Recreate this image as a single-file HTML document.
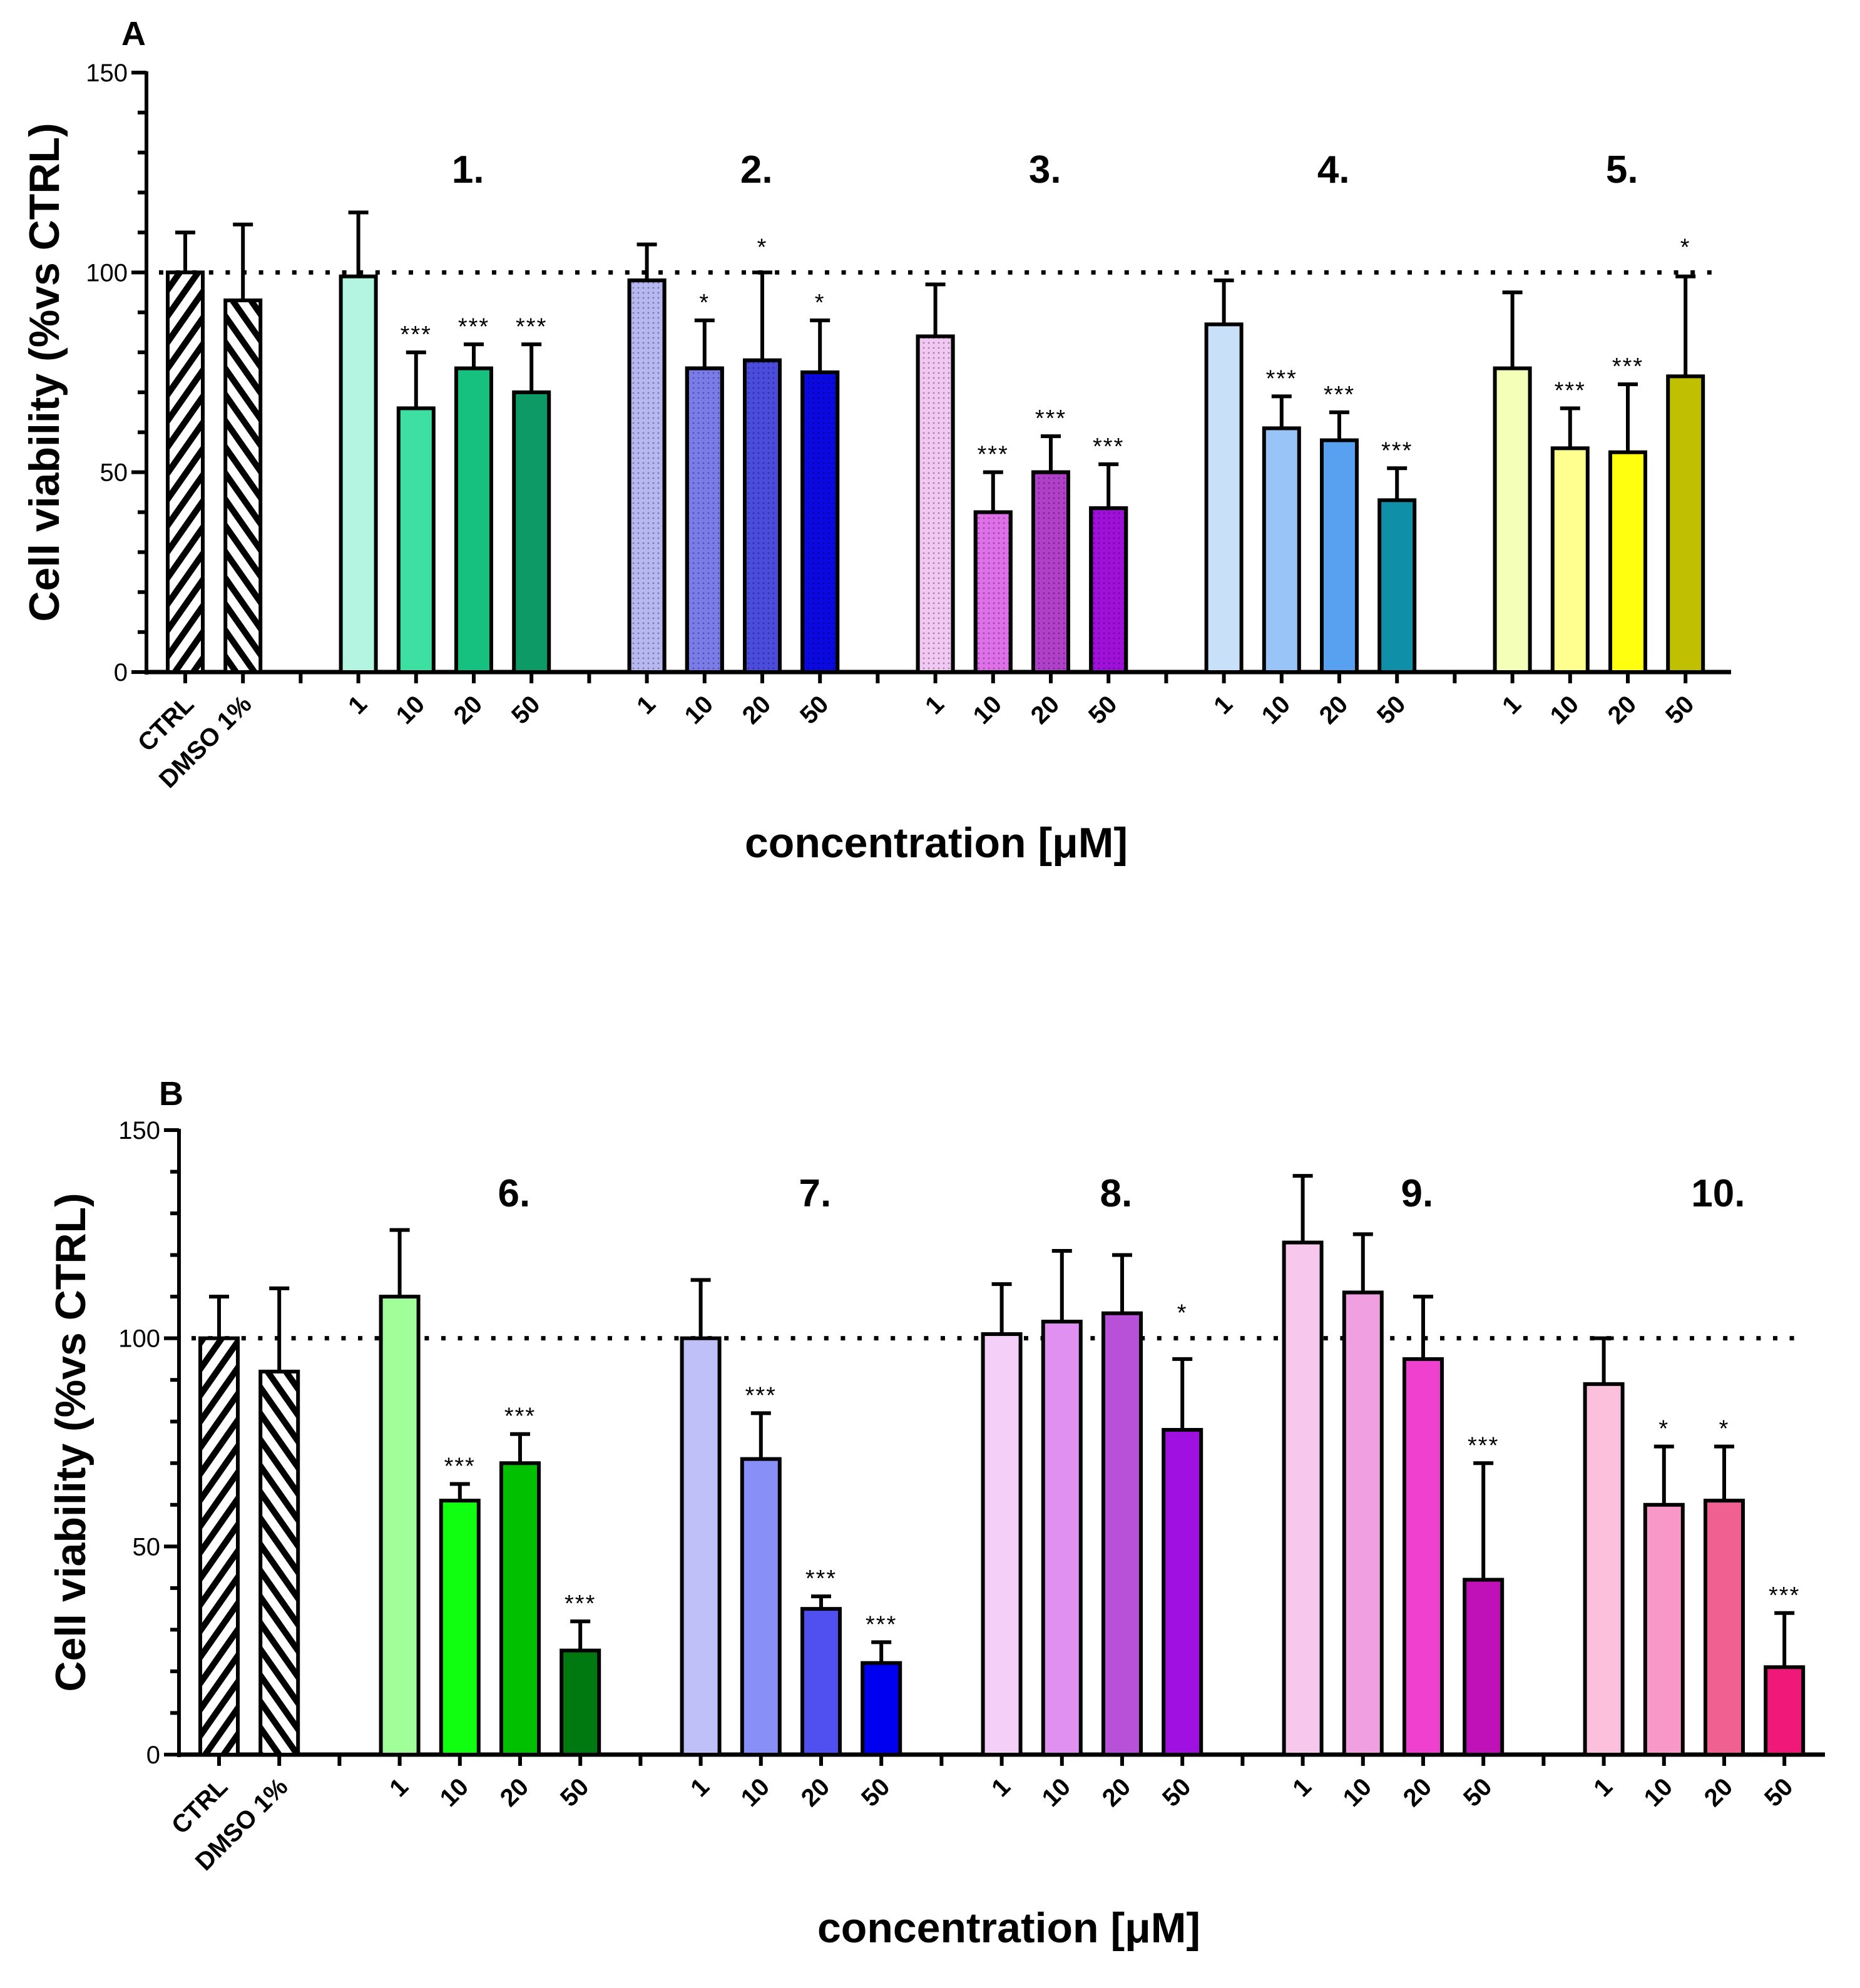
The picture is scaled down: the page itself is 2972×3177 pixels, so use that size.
<!DOCTYPE html>
<html><head><meta charset="utf-8"><style>
html,body{margin:0;padding:0;background:#fff}
svg{display:block}
text{font-family:"Liberation Sans",Arial,sans-serif}
</style></head><body>
<svg id="fig" width="2972" height="3177" viewBox="0 0 1486 1588.5" preserveAspectRatio="none" xmlns="http://www.w3.org/2000/svg">
<defs>
<pattern id="hatchA" patternUnits="userSpaceOnUse" width="12" height="12" patternTransform="rotate(35)"><rect width="12" height="12" fill="#fff"/><rect width="5" height="12" fill="#000"/></pattern>
<pattern id="hatchB" patternUnits="userSpaceOnUse" width="12" height="12" patternTransform="rotate(-35)"><rect width="12" height="12" fill="#fff"/><rect width="5" height="12" fill="#000"/></pattern>
<pattern id="dots" patternUnits="userSpaceOnUse" width="4" height="4"><rect width="4" height="4" fill="none"/><circle cx="2" cy="2" r="0.7" fill="rgba(0,0,60,0.35)"/></pattern>
</defs>
</svg>
<script>
// ---- data ----
const ticksY = [0, 50, 100, 150];
const groupNamesA = ["1.", "2.", "3.", "4.", "5."];
const groupNamesB = ["6.", "7.", "8.", "9.", "10."];
const doses = ["1", "10", "20", "50"];
const ctrlVals = [100, 93];
const ctrlErrA = [110, 112];
const ctrlValsB = [100, 92];
const ctrlErrB = [110, 112];
const valsA = [[99,66,76,70],[98,76,78,75],[84,40,50,41],[87,61,58,43],[76,56,55,74]];
const errA  = [[115,80,82,82],[107,88,100,88],[97,50,59,52],[98,69,65,51],[95,66,72,99]];
const starsA = [["","***","***","***"],["","*","*","*"],["","***","***","***"],["","***","***","***"],["","***","***","*"]];
const valsB = [[110,61,70,25],[100,71,35,22],[101,104,106,78],[123,111,95,42],[89,60,61,21]];
const errB  = [[126,65,77,32],[114,82,38,27],[113,121,120,95],[139,125,110,70],[100,74,74,34]];
const starsB = [["","***","***","***"],["","***","***","***"],["","","","*"],["","","","***"],["","*","*","***"]];
const colorsA = [["#b3f5e0","#3de0a0","#16c07f","#0e9a66"],["#b8b8f0","#7c7ce8","#4b4bdc","#0a0ae0"],["#f0c8f0","#e070e8","#b040c8","#a010d8"],["#c8e0f8","#98c4f8","#58a0f0","#1090a8"],["#f4ffb8","#ffff90","#ffff10","#c0c000"]];
const colorsB = [["#a0ff98","#10ff10","#00c000","#007a10"],["#c0c0f8","#8890f8","#5050f0","#0000f0"],["#f4d0f8","#e090f0","#b850d8","#a010e0"],["#f8c8ec","#f0a0e0","#f040d0","#c010b8"],["#fcc0dc","#f898c8","#f06090","#f01878"]];

const NS = "http://www.w3.org/2000/svg";
const svg = document.getElementById("fig");
function mk(tag, attrs, parent, txt){
  const e = document.createElementNS(NS, tag);
  for (const k in attrs) e.setAttribute(k, attrs[k]);
  if (txt !== undefined) e.textContent = txt;
  (parent || svg).appendChild(e);
  return e;
}

function panel(cfg){
  const g = mk("g", {});
  
  
  const y = v => cfg.y0 - (v / 150) * (cfg.y0 - cfg.y150);
  const slotX = i => cfg.x0 + i * cfg.step;
  const pl = mk("text", {x: cfg.letterX, y: cfg.letterY, "font-size": 27, "font-weight": "bold"}, g, cfg.letter);
  
  
  const ya = mk("line", {x1: cfg.ax, y1: cfg.y150 - 1, x2: cfg.ax, y2: cfg.y0 + 2, stroke: "#000", "stroke-width": 3}, g);
  
  
  for (let v = 0; v <= 150; v += 10) {
    const major = v % 50 === 0;
    mk("line", {x1: cfg.ax - (major ? 12 : 7), y1: y(v), x2: cfg.ax, y2: y(v), stroke: "#000", "stroke-width": 3}, g);
  }
  ticksY.forEach(t => {
    const tl = mk("text", {x: cfg.ax - 15, y: y(t) + 7, "font-size": 20, "text-anchor": "end"}, g, String(t));
    
    
  });
  const yt = mk("text", {x: 0, y: 0, "font-size": 34, "font-weight": "bold", "text-anchor": "middle", transform: `translate(${cfg.ytX},${(cfg.y0 + cfg.y150) / 2}) rotate(-90)`}, g, "Cell viability (%vs CTRL)");
  
  
  const xa = mk("line", {x1: cfg.ax - 1, y1: cfg.y0, x2: cfg.axEnd, y2: cfg.y0, stroke: "#000", "stroke-width": 3.5}, g);
  
  
  for (let i = 0; i < 27; i++) mk("line", {x1: slotX(i), y1: cfg.y0, x2: slotX(i), y2: cfg.y0 + 9, stroke: "#000", "stroke-width": 3}, g);
  const dl = mk("line", {x1: cfg.ax + 10, y1: y(100), x2: cfg.axEnd - 15, y2: y(100), stroke: "#000", "stroke-width": 3.5, "stroke-dasharray": "3.5 9.8"}, g);
  
  

  function bar(i, v, e, fill, name, label, star, pattern){
    const cx = slotX(i), w = cfg.bw;
    mk("line", {x1: cx, y1: y(v), x2: cx, y2: y(e), stroke: "#000", "stroke-width": 3}, g);
    mk("line", {x1: cx - 8, y1: y(e), x2: cx + 8, y2: y(e), stroke: "#000", "stroke-width": 3}, g);
    const r = mk("rect", {x: cx - w / 2, y: y(v), width: w, height: y(0) - y(v), fill: fill, stroke: "#000", "stroke-width": 3}, g);
    
    
    if (pattern) mk("rect", {x: cx - w / 2, y: y(v), width: w, height: y(0) - y(v), fill: "url(#dots)", stroke: "#000", "stroke-width": 3}, g);
    const lx = cx + 8, ly = cfg.y0 + 27;
    const t = mk("text", {x: 0, y: 0, "font-size": 20, "font-weight": "bold", "text-anchor": "end", transform: `translate(${lx},${ly}) rotate(-45)`}, g, label);
    
    
    if (star) {
      let sy = y(e) - 8;
      if (Math.abs(sy - y(100)) < 16) sy = Math.min(sy, y(100) - 14);
      const s = mk("text", {x: cx, y: sy, "font-size": 19, "text-anchor": "middle", "letter-spacing": "1"}, g, star);
      
      
    }
  }
  bar(0, cfg.ctrl[0], cfg.ctrlErr[0], "url(#hatchA)", "bar-ctrl", "CTRL", "", false);
  bar(1, cfg.ctrl[1], cfg.ctrlErr[1], "url(#hatchB)", "bar-dmso", "DMSO 1%", "", false);
  cfg.vals.forEach((gv, gi) => {
    const start = 3 + gi * 5;
    gv.forEach((v, di) => {
      bar(start + di, v, cfg.err[gi][di], cfg.colors[gi][di], `bar-${cfg.groups[gi].replace('.', '')}-${doses[di]}uM`, doses[di], cfg.stars[gi][di], cfg.dotted && (gi === 1 || gi === 2));
    });
    const gl = mk("text", {x: slotX(start) + 1.9 * cfg.step, y: cfg.groupY, "font-size": 31, "font-weight": "bold", "text-anchor": "middle"}, g, cfg.groups[gi]);
    
    
  });
  const xt = mk("text", {x: cfg.xtX, y: cfg.xtY, "font-size": 34, "font-weight": "bold", "text-anchor": "middle"}, g, "concentration [\u03bcM]");
  
  
}

panel({name: "panel-a", letter: "A", letterX: 97, letterY: 36, ax: 117, axEnd: 1383, y0: 537, y150: 58, x0: 148, step: 46.1, bw: 28,
  ytX: 47, ctrl: ctrlVals, ctrlErr: ctrlErrA, vals: valsA, err: errA, stars: starsA, colors: colorsA, groups: groupNamesA,
  groupY: 146, xtX: 748, xtY: 685, dotted: true});
panel({name: "panel-b", letter: "B", letterX: 127, letterY: 883, ax: 143, axEnd: 1458, y0: 1402, y150: 903, x0: 175, step: 48.1, bw: 30,
  ytX: 68, ctrl: ctrlValsB, ctrlErr: ctrlErrB, vals: valsB, err: errB, stars: starsB, colors: colorsB, groups: groupNamesB,
  groupY: 964, xtX: 806, xtY: 1552, dotted: false});
</script>
</body></html>
